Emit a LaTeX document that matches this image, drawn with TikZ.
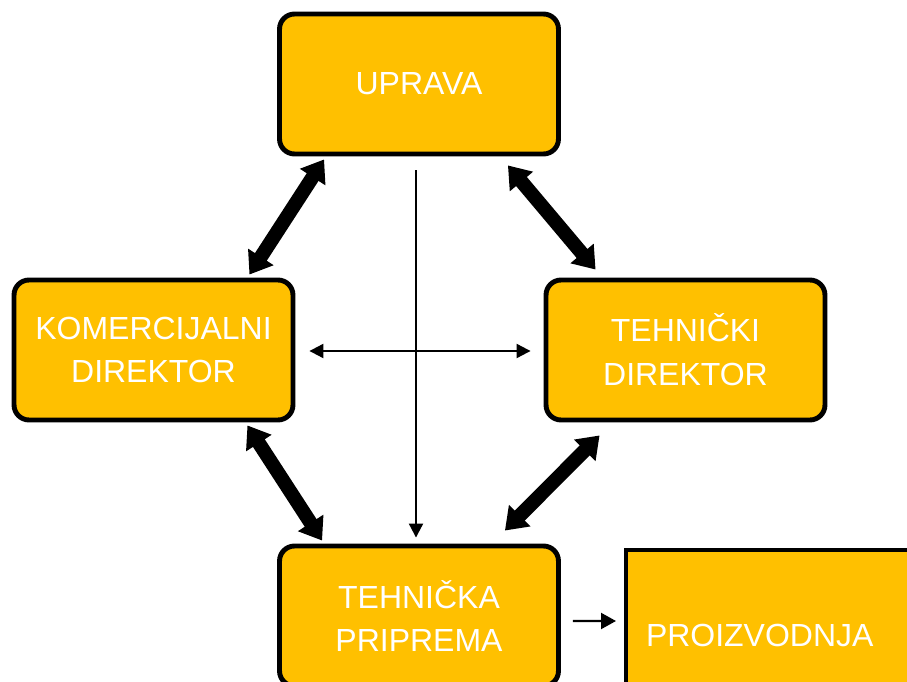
\documentclass[tikz,border=0pt]{standalone}
\usepackage{fontspec}
\setmainfont{Liberation Sans}
\usepackage{tikz}
\usetikzlibrary{shapes,arrows}
\usetikzlibrary{arrows.meta}
\usetikzlibrary{calc}
\definecolor{zuta}{HTML}{FFC000}
\tikzset{org/.style={rectangle, rounded corners=0.3cm, draw, line width=2.8pt, fill=zuta, text=white, font=\fontsize{18.2}{25}\selectfont, align=center, minimum width=5.58cm, minimum height=2.8cm, inner sep=0pt}}
\newcommand{\orgnode}[3] {\node at (#1) (#2) [org] {#3};}
\newcommand{\debela}[2] {\draw [{Triangle[length=4.2mm,width=5.8mm]}-{Triangle[length=4.2mm,width=5.8mm]}, line width=8pt] (#1) -- (#2);}
\newcommand{\tanka}[3] {\draw [#1, line width=1.2pt] (#2) -- (#3);}

\begin{document}
\begin{tikzpicture}[x=0.02cm, y=-0.02cm]
\clip (0,0) rectangle (907,682);
\orgnode {419,84} {upr} {UPRAVA};
\orgnode {153.5,350} {kom} {KOMERCIJALNI\\DIREKTOR};
\orgnode {685.5,350} {teh} {TEHNIČKI\\DIREKTOR};
\orgnode {419,616} {tp} {TEHNIČKA\\PRIPREMA};
\node at (624,548) (prod) [org, rounded corners=0pt, line width=2.3pt, anchor=north west, align=left, text width=5.26cm, inner xsep=0.4cm, minimum height=3.4cm] {PROIZVODNJA};

\debela{$(upr.south west)+(47,3)$}{$(kom.north east)+(-46,-3)$};
\debela{$(upr.south east)+(-53,9)$}{$(teh.north west)+(52,-8)$};
\debela{$(kom.south east)+(-48,3)$}{$(tp.north west)+(45,-3)$};
\debela{$(teh.south west)+(56,13)$}{$(tp.north east)+(-56,-13)$};

\tanka{{Triangle[length=2.8mm,width=2.8mm]}-{Triangle[length=2.8mm,width=2.8mm]}}{$(kom.east)+(14,1)$}{$(teh.west)+(-13,1)$};
\tanka{-{Triangle[length=2.8mm,width=2.8mm]}}{$(upr.south)+(-3,14)$}{$(tp.north)+(-3,-6)$};
\tanka{-{Triangle[length=3mm,width=3.2mm]}}{$(tp.east)+(12,5)$}{$(prod.west)+(-8,-14)$};
\end{tikzpicture}
\end{document}
